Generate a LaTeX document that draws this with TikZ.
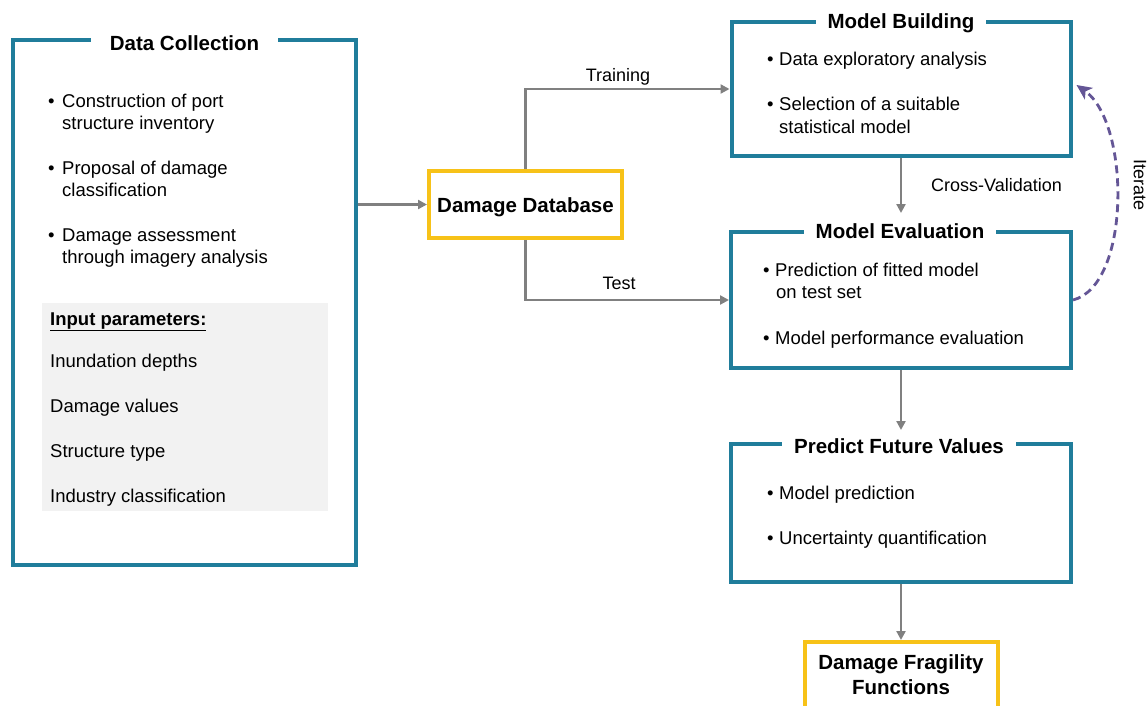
\documentclass[tikz,border=0pt]{standalone}
\usepackage{fontspec}
\setmainfont{Liberation Sans}
\usetikzlibrary{arrows.meta}
\definecolor{boxblue}{RGB}{32,125,155}
\definecolor{boxyellow}{RGB}{247,194,24}
\definecolor{arrowgray}{RGB}{128,128,128}
\definecolor{iterpurple}{RGB}{100,86,150}
\definecolor{paramgray}{RGB}{242,242,242}
\begin{document}
\begin{tikzpicture}[x=1pt,y=-1pt,
  bluebox/.style={draw=boxblue, line width=4pt, inner sep=0pt},
  yelbox/.style={draw=boxyellow, line width=4pt, inner sep=0pt},
  ttl/.style={font=\fontsize{20.5}{24}\selectfont\bfseries, fill=white, inner ysep=3pt, inner xsep=12pt, anchor=base},
  txt/.style={font=\fontsize{18.5}{22}\selectfont, anchor=base west, inner sep=0pt},
  lbl/.style={font=\fontsize{18}{22}\selectfont, inner sep=0pt},
  conn/.style={draw=arrowgray, line width=2.3pt, -{Triangle[length=9pt,width=9pt]}},
  iter/.style={draw=iterpurple, line width=2.8pt, dash pattern=on 8pt off 5pt, -{Stealth[length=15pt,width=14pt,inset=4pt]}}
]
\useasboundingbox (0,0) rectangle (1147,705);
\clip (0,0) rectangle (1147,705);

% ---------- Data Collection ----------
\node[bluebox, minimum width=343pt, minimum height=525pt] (dc) at (184.5,302.5) {};
\node[ttl, inner xsep=19pt] (dct) at (184.5,50) {Data Collection};
\node[txt] (dcb1a) at (48,107) {\makebox[14pt][l]{\textbullet}Construction of port};
\node[txt] (dcb1b) at (62,129) {structure inventory};
\node[txt] (dcb2a) at (48,174) {\makebox[14pt][l]{\textbullet}Proposal of damage};
\node[txt] (dcb2b) at (62,196) {classification};
\node[txt] (dcb3a) at (48,241) {\makebox[14pt][l]{\textbullet}Damage assessment};
\node[txt] (dcb3b) at (62,263) {through imagery analysis};
\node[fill=paramgray, minimum width=286pt, minimum height=208pt, inner sep=0pt] (ip) at (185,407) {};
\node[txt, font=\fontsize{18.5}{22}\selectfont\bfseries] (ip0) at (50,325) {\underline{Input parameters:}};
\node[txt] (ip1) at (50,367) {Inundation depths};
\node[txt] (ip2) at (50,412) {Damage values};
\node[txt] (ip3) at (50,457) {Structure type};
\node[txt] (ip4) at (50,502) {Industry classification};

% ---------- Damage Database ----------
\node[yelbox, minimum width=193pt, minimum height=67pt] (db) at (525.5,204.5) {};
\node[ttl, fill=none] (dbt) at (525.5,212) {Damage Database};

% ---------- Model Building ----------
\node[bluebox, minimum width=339pt, minimum height=134pt] (mb) at (901,89) {};
\node[ttl] (mbt) at (901,28) {Model Building};
\node[txt] (mbb1) at (767,65) {\makebox[12pt][l]{\textbullet}Data exploratory analysis};
\node[txt] (mbb2a) at (767,110) {\makebox[12pt][l]{\textbullet}Selection of a suitable};
\node[txt] (mbb2b) at (779,133) {statistical model};

% ---------- Model Evaluation ----------
\node[bluebox, minimum width=340pt, minimum height=136pt] (me) at (901,300) {};
\node[ttl] (met) at (900,238) {Model Evaluation};
\node[txt] (meb1a) at (763,276) {\makebox[12pt][l]{\textbullet}Prediction of fitted model};
\node[txt] (meb1b) at (776,298) {on test set};
\node[txt] (meb2) at (763,344) {\makebox[12pt][l]{\textbullet}Model performance evaluation};

% ---------- Predict Future Values ----------
\node[bluebox, minimum width=340pt, minimum height=138pt] (pf) at (901,513) {};
\node[ttl] (pft) at (899,453) {Predict Future Values};
\node[txt] (pfb1) at (767,499) {\makebox[12pt][l]{\textbullet}Model prediction};
\node[txt] (pfb2) at (767,544) {\makebox[12pt][l]{\textbullet}Uncertainty quantification};

% ---------- Damage Fragility Functions ----------
\node[yelbox, minimum width=193pt, minimum height=78pt] (dff) at (901,681) {};
\node[ttl, fill=none] (dfft1) at (901,669) {Damage Fragility};
\node[ttl, fill=none] (dfft2) at (901,694) {Functions};

% ---------- Connectors ----------
\draw[conn] (db.west -| dc.east) -- (db.west);
\draw[conn] (db.north) |- (mb.west);
\draw[conn] (db.south) |- (me.west);
\draw[conn] (mb.south) -- ([yshift=17pt]me.north);
\draw[conn] (me.south) -- ([yshift=12pt]pf.north);
\draw[conn] (pf.south) -- (dff.north);
\draw[iter] (me.east) .. controls +(58,-15) and +(54,38) .. ([xshift=4pt,yshift=4pt]mb.east);

% ---------- Labels ----------
\node[lbl, anchor=base] (ltrain) at (618,81) {Training};
\node[lbl, anchor=base] (ltest) at (619,289) {Test};
\node[lbl, anchor=base west] (lcv) at (931,191) {Cross-Validation};
\node[lbl, rotate=-90] (liter) at (1140,185) {Iterate};
\end{tikzpicture}
\end{document}
